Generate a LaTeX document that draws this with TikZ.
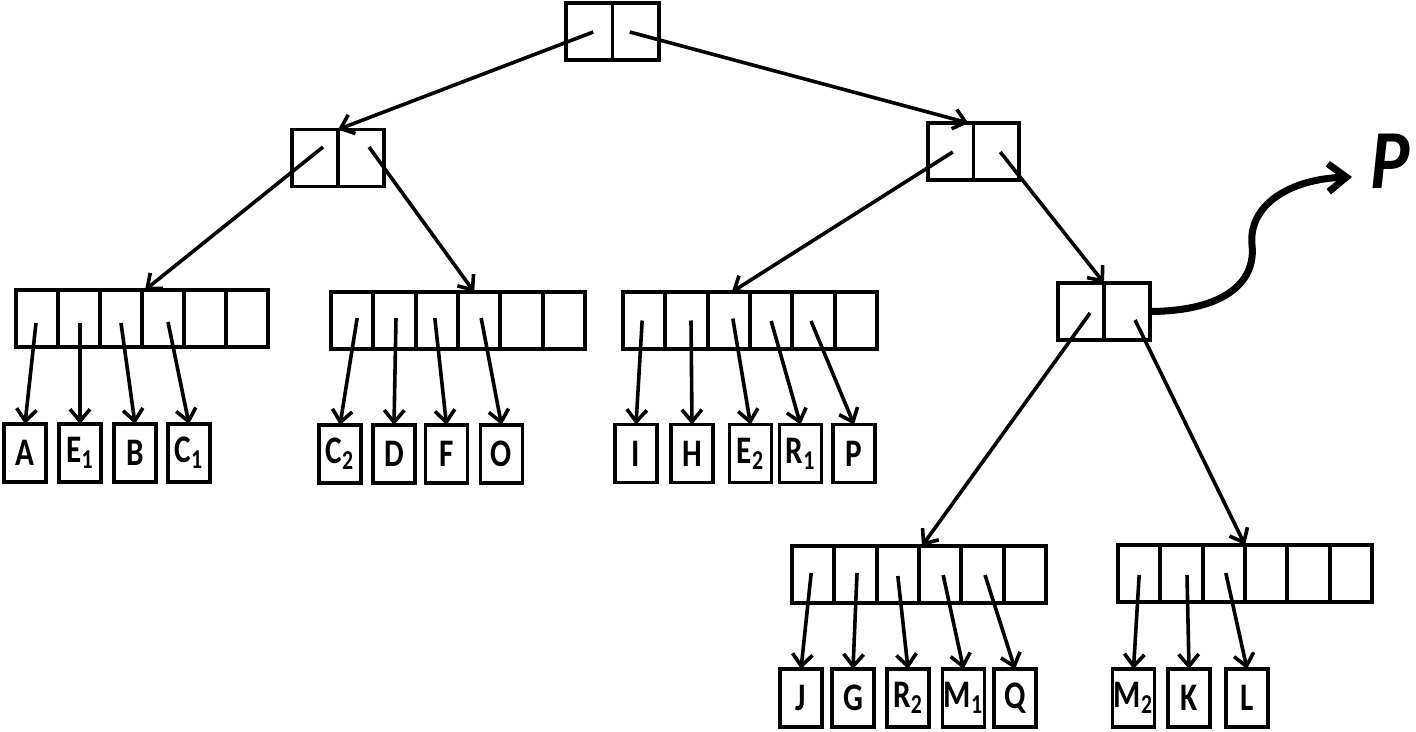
\documentclass[tikz,border=0pt]{standalone}
\usepackage{fontspec}
\newfontfamily\labfont[FakeStretch=0.8]{Carlito}
\newfontfamily\bigfont[FakeStretch=0.88]{Carlito}
\usetikzlibrary{arrows.meta,calc}
\begin{document}
\begin{tikzpicture}[x=0.5pt,y=-0.5pt,
  cell/.style={draw,line width=1.9pt,inner sep=0pt,outer sep=0pt,minimum height=28.5pt},
  leaf/.style={draw,line width=1.9pt,inner sep=0pt,outer sep=0pt,minimum width=21pt,minimum height=29pt,
    font=\labfont\bfseries\fontsize{19.5}{20}\selectfont},
  ptr/.style={line width=1.8pt,-{Straight Barb[length=6pt,width=10pt]}},
  bigptr/.style={line width=3.5pt,-{Straight Barb[length=9pt,width=14pt]}}]
\useasboundingbox (0,0) rectangle (1416,732);

% internal nodes (arrays of cells)
\foreach \i in {1,2} \node[cell,minimum width=23.25pt] (t\i) at ({566+(\i-0.5)*46.5},31.5) {};
\foreach \i in {1,2} \node[cell,minimum width=23pt] (n\i) at ({292+(\i-0.5)*46},158) {};
\foreach \i in {1,2} \node[cell,minimum width=22.75pt] (m\i) at ({928+(\i-0.5)*45.5},151.5) {};
\foreach \i in {1,2} \node[cell,minimum width=23pt] (d\i) at ({1058+(\i-0.5)*46},311.5) {};
\foreach \i in {1,...,6} \node[cell,minimum width=21pt] (a\i) at ({16+(\i-0.5)*42},318.5) {};
\foreach \i in {1,...,6} \node[cell,minimum width=21.17pt] (b\i) at ({331+(\i-0.5)*42.33},320.5) {};
\foreach \i in {1,...,6} \node[cell,minimum width=21.17pt] (c\i) at ({623+(\i-0.5)*42.33},320.5) {};
\foreach \i in {1,...,6} \node[cell,minimum width=21.17pt] (e\i) at ({792+(\i-0.5)*42.33},574.5) {};
\foreach \i in {1,...,6} \node[cell,minimum width=21.17pt] (f\i) at ({1118+(\i-0.5)*42.33},573.5) {};

% leaves
\node[leaf] (A)  at (25,453) {A};
\node[leaf] (E1) at (80,453) {E\textsubscript{1}};
\node[leaf] (B)  at (135,453) {B};
\node[leaf] (C1) at (189,453) {C\textsubscript{1}};
\node[leaf] (C2) at (340,454) {C\textsubscript{2}};
\node[leaf] (D)  at (394,454) {D};
\node[leaf] (F)  at (446.5,454) {F};
\node[leaf] (O)  at (501.5,454) {O};
\node[leaf] (I)  at (636,453.5) {I};
\node[leaf] (H)  at (692,453.5) {H};
\node[leaf] (E2) at (750.5,453.5) {E\textsubscript{2}};
\node[leaf] (R1) at (800.5,453.5) {R\textsubscript{1}};
\node[leaf] (Pl) at (854,453.5) {P};
\node[leaf] (J)  at (801,698) {J};
\node[leaf] (G)  at (853,698) {G};
\node[leaf] (R2) at (908,698) {R\textsubscript{2}};
\node[leaf] (M1) at (963.5,698) {M\textsubscript{1}};
\node[leaf] (Q)  at (1015,698) {Q};
\node[leaf] (M2) at (1133.5,698) {M\textsubscript{2}};
\node[leaf] (K)  at (1189,698) {K};
\node[leaf] (L)  at (1247,698) {L};

% internal pointers
\draw[ptr] ($(t1)+(4,0.5)$) -- (n2.north west);
\draw[ptr] ($(t2)+(-6,0.5)$) -- ($(m2.north west)+(-5,0)$);
\draw[ptr] ($(n1)+(8,-11)$) -- ($(a4.north west)+(3,0)$);
\draw[ptr] ($(n2)+(8,-11)$) -- ($(b4.north)+(-5,0)$);
\draw[ptr] ($(m1)+(2,0.5)$) -- ($(c3.north)+(3,0)$);
\draw[ptr] ($(m2)+(4,0.5)$) -- (d1.north east);
\draw[ptr] ($(d1)+(9,1.5)$) -- ($(e4.north west)+(3,0)$);
\draw[ptr] ($(d2)+(8,8.5)$) -- (f3.north east);

% leaf pointers
\draw[ptr] ($(a1)+(-1,4.5)$) -- (A.north);
\draw[ptr] ($(a2)+(1,4.5)$) -- (E1.north);
\draw[ptr] ($(a3)+(0,4.5)$) -- (B.north);
\draw[ptr] ($(a4)+(5,3.5)$) -- (C1.north);
\draw[ptr] ($(b1)+(5,-2.5)$) -- (C2.north);
\draw[ptr] ($(b2)+(1.5,-2.5)$) -- (D.north);
\draw[ptr] ($(b3)+(-2,-2.5)$) -- (F.north);
\draw[ptr] ($(b4)+(2,-2.5)$) -- (O.north);
\draw[ptr] ($(c1)+(-2,0)$) -- (I.north);
\draw[ptr] ($(c2)+(4.5,0)$) -- (H.north);
\draw[ptr] ($(c3)+(4,-2)$) -- (E2.north);
\draw[ptr] ($(c4)+(0,0.5)$) -- (R1.north);
\draw[ptr] ($(c5)+(-2.5,0.5)$) -- (Pl.north);
\draw[ptr] ($(e1)+(-2,-1.5)$) -- (J.north);
\draw[ptr] ($(e2)+(1.5,-1.5)$) -- (G.north);
\draw[ptr] ($(e3)+(0,1.5)$) -- (R2.north);
\draw[ptr] ($(e4)+(3,0.5)$) -- (M1.north);
\draw[ptr] ($(e5)+(2.5,0.5)$) -- (Q.north);
\draw[ptr] ($(f1)+(0,1.5)$) -- (M2.north);
\draw[ptr] ($(f2)+(5.5,1.5)$) -- (K.north);
\draw[ptr] ($(f3)+(2,-0.5)$) -- (L.north);

% big label and curved pointer
\node[inner sep=0pt,font=\bigfont\bfseries\itshape\fontsize{42}{42}\selectfont] (Pbig) at (1390,161) {P};
\coordinate (ptip) at (1352,177);
\draw[bigptr] (d2.east) .. controls (1225,311) and (1256,282) .. (1252,245)
   .. controls (1248,205) and (1290,179) .. (ptip);
\end{tikzpicture}
\end{document}
